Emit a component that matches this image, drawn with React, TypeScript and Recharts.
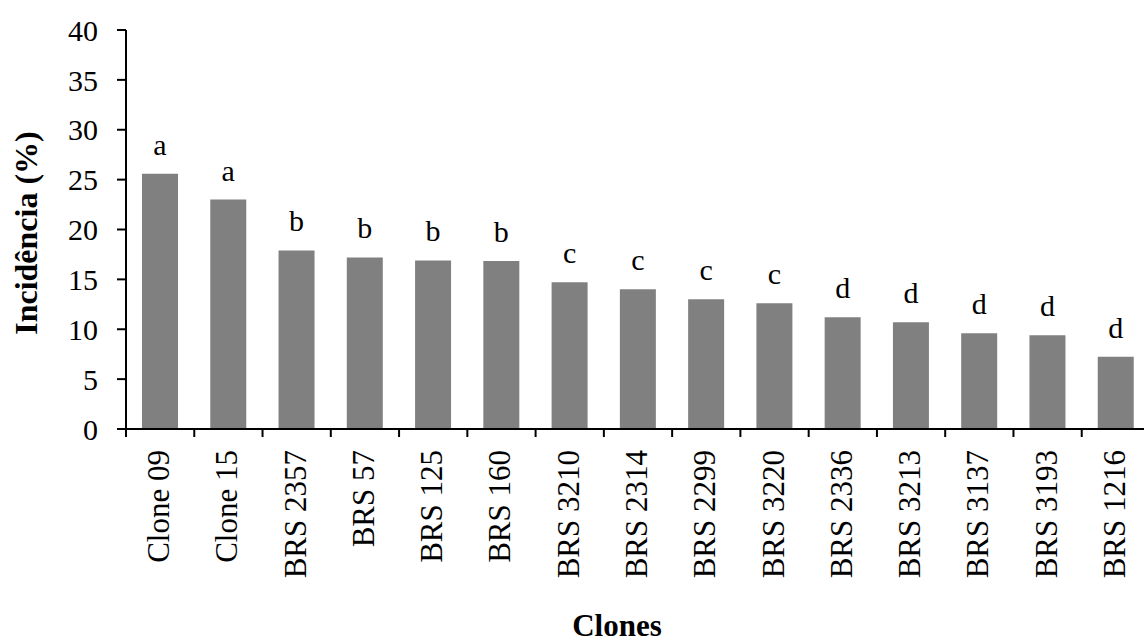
import { BarChart, Bar, XAxis, YAxis, LabelList } from 'recharts';

const clones = [
  'Clone 09', 'Clone 15', 'BRS 2357', 'BRS 57', 'BRS 125', 'BRS 160', 'BRS 3210', 'BRS 2314',
  'BRS 2299', 'BRS 3220', 'BRS 2336', 'BRS 3213', 'BRS 3137', 'BRS 3193', 'BRS 1216',
];
const incidence = [25.6, 23.0, 17.9, 17.2, 16.9, 16.85, 14.7, 14.0, 13.0, 12.6, 11.2, 10.7, 9.6, 9.4, 7.25];
const groups = ['a', 'a', 'b', 'b', 'b', 'b', 'c', 'c', 'c', 'c', 'd', 'd', 'd', 'd', 'd'];
const yTicks = [0, 5, 10, 15, 20, 25, 30, 35, 40];

const data = clones.map((name, i) => ({ name, value: incidence[i], grp: groups[i] }));

const serif = '"Liberation Serif", "Times New Roman", serif';

// category tick: rotated label + tick line drawn on the category boundary
function CloneTick(props: any) {
  const { x, y, payload } = props;
  const half = payload?.offset ?? 0;
  return (
    <g>
      <line x1={x - half} x2={x - half} y1={y - 21} y2={y - 13} stroke="#000" strokeWidth={2} />
      <text
        x={x + 9}
        y={y}
        transform={`rotate(-90, ${x + 9}, ${y})`}
        textAnchor="end"
        fontFamily={serif}
        fontSize={31}
        fill="#000"
      >
        {payload.value}
      </text>
    </g>
  );
}

export default function App() {
  return (
    <div style={{ position: 'absolute', left: 0, top: 0, width: 1144, height: 644, overflow: 'hidden', background: '#fff' }}>
      <BarChart width={1160} height={644} data={data} margin={{ top: 30, right: 10, left: 0, bottom: 0 }} barSize={36}>
        <XAxis
          dataKey="name"
          interval={0}
          height={215}
          tickSize={8}
          tickMargin={13}
          tickLine={false}
          axisLine={{ stroke: '#000', strokeWidth: 2 }}
          tick={<CloneTick />}
          label={{ value: 'Clones', position: 'insideBottom', offset: 8, dx: -21, fill: '#000', fontSize: 31, fontWeight: 'bold', fontFamily: serif }}
        />
        <YAxis
          width={126}
          domain={[0, 40]}
          ticks={yTicks}
          interval={0}
          tickSize={9}
          tickMargin={19}
          axisLine={{ stroke: '#000', strokeWidth: 2 }}
          tickLine={{ stroke: '#000', strokeWidth: 2 }}
          tick={{ fill: '#000', fontSize: 30, fontFamily: serif }}
          label={{
            content: () => (
              <text
                x={37}
                y={233}
                transform="rotate(-90, 37, 233)"
                textAnchor="middle"
                fontFamily={serif}
                fontSize={32}
                fontWeight="bold"
                fill="#000"
              >
                Incidência (%)
              </text>
            ),
          }}
        />
        <Bar dataKey="value" fill="#808080" isAnimationActive={false}>
          <LabelList dataKey="grp" position="top" offset={19} fill="#000" fontSize={30} fontFamily={serif} />
        </Bar>
      </BarChart>
    </div>
  );
}
